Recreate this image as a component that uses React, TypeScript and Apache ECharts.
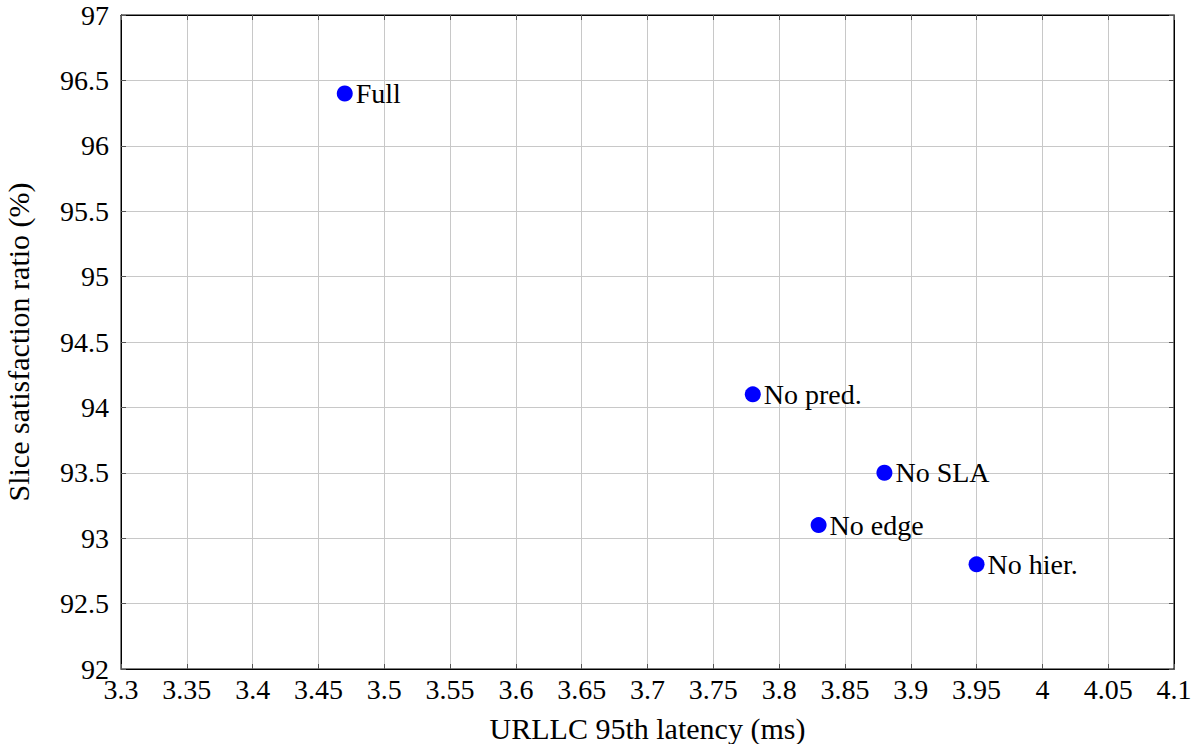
import React, { useEffect, useRef } from "react";
import * as echarts from "echarts";

const labels = ["Full", "No pred.", "No SLA", "No edge", "No hier."];
const latency = [3.47, 3.78, 3.88, 3.83, 3.95];
const satisfaction = [96.4, 94.1, 93.5, 93.1, 92.8];

const FONT = "Liberation Serif";

export default function App() {
  const ref = useRef<HTMLDivElement>(null);
  useEffect(() => {
    if (!ref.current) return;
    const chart = echarts.init(ref.current, undefined, { renderer: "svg" });
    const data = labels.map((l, i) => ({ name: l, value: [latency[i], satisfaction[i]] }));
    const tickStyle = { show: true, inside: true, length: 5, lineStyle: { color: "#555", width: 1 } };
    chart.setOption({
      animation: false,
      backgroundColor: "#fff",
      textStyle: { fontFamily: FONT },
      grid: {
        left: 121,
        right: 24,
        top: 15,
        bottom: 75,
        containLabel: false,
        outerBoundsMode: "none",
        show: true,
        borderColor: "#000",
        borderWidth: 1,
      },
      xAxis: [
        {
          type: "value",
          min: 3.3,
          max: 4.1,
          interval: 0.05,
          name: "URLLC 95th latency (ms)",
          nameLocation: "middle",
          nameGap: 45,
          nameTextStyle: { fontSize: 30, lineHeight: 28, color: "#000", fontFamily: FONT },
          axisLine: { show: true, lineStyle: { color: "#000" } },
          axisTick: tickStyle,
          splitLine: { show: true, lineStyle: { color: "#c8c8c8", width: 1 } },
          axisLabel: {
            fontSize: 28,
            color: "#000",
            margin: 6,
            fontFamily: FONT,
            formatter: (v: number) => String(parseFloat(v.toFixed(2))),
          },
        },
        {
          type: "value",
          position: "top",
          min: 3.3,
          max: 4.1,
          interval: 0.05,
          axisLine: { show: true, lineStyle: { color: "#000" } },
          axisTick: tickStyle,
          splitLine: { show: false },
          axisLabel: { show: false },
        },
      ],
      yAxis: [
        {
          type: "value",
          min: 92,
          max: 97,
          interval: 0.5,
          name: "Slice satisfaction ratio (%)",
          nameLocation: "middle",
          nameGap: 88,
          nameTextStyle: { fontSize: 30, color: "#000", fontFamily: FONT },
          axisLine: { show: true, lineStyle: { color: "#000" } },
          axisTick: tickStyle,
          splitLine: { show: true, lineStyle: { color: "#c8c8c8", width: 1 } },
          axisLabel: {
            fontSize: 28,
            color: "#000",
            margin: 12,
            fontFamily: FONT,
            formatter: (v: number) => String(parseFloat(v.toFixed(1))),
          },
        },
        {
          type: "value",
          position: "right",
          min: 92,
          max: 97,
          interval: 0.5,
          axisLine: { show: true, lineStyle: { color: "#000" } },
          axisTick: tickStyle,
          splitLine: { show: false },
          axisLabel: { show: false },
        },
      ],
      series: [
        {
          type: "scatter",
          xAxisIndex: 0,
          yAxisIndex: 0,
          data,
          symbol: "circle",
          symbolSize: 16,
          itemStyle: { color: "#0000ff", opacity: 1 },
          label: {
            show: true,
            position: "right",
            distance: 3,
            formatter: (p: any) => p.name,
            fontSize: 28,
            color: "#000",
            fontFamily: FONT,
          },
        },
      ],
    });
    return () => chart.dispose();
  }, []);
  return (
    <div
      ref={ref}
      style={{ position: "fixed", left: 0, top: 0, width: 1198, height: 744, background: "#fff" }}
    />
  );
}
